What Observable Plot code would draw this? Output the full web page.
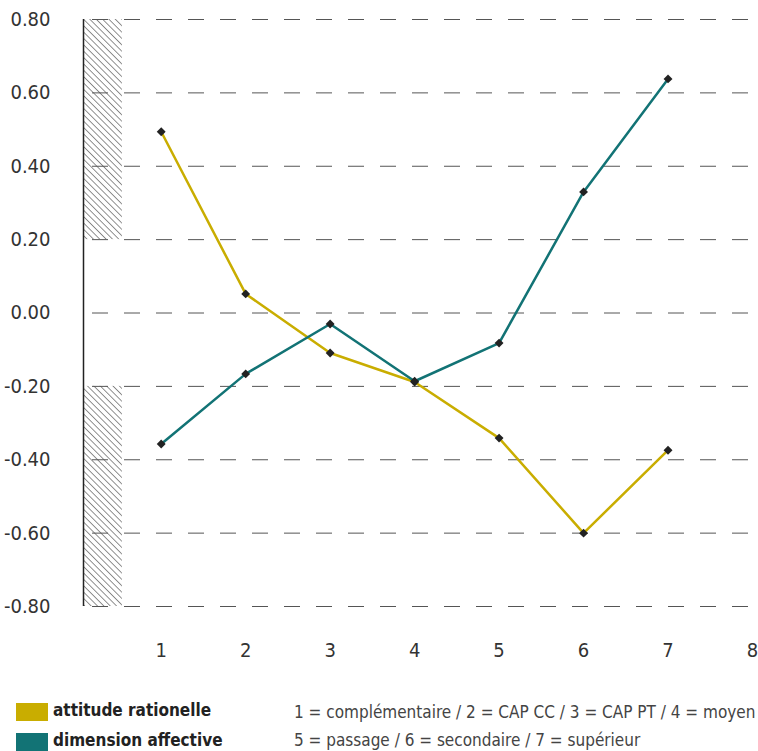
<!DOCTYPE html>
<html>
<head>
<meta charset="utf-8">
<script src="https://cdn.jsdelivr.net/npm/d3@7"></script>
<script src="https://cdn.jsdelivr.net/npm/@observablehq/plot@0.6"></script>
<style>
  body { margin: 0; background: #fff; font-family: "DejaVu Sans Condensed", "DejaVu Sans", sans-serif; font-stretch: condensed; }
  #wrap { position: relative; width: 758px; height: 751px; }
  svg text { font-stretch: condensed; }
  .leg { position: absolute; font-size: 17px; color: #222; white-space: nowrap; font-stretch: condensed; }
  .sw { position: absolute; width: 32px; height: 18px; }
</style>
</head>
<body>
<div id="wrap"></div>
<script>
const levels = [1, 2, 3, 4, 5, 6, 7];
const rationelle = [0.494, 0.052, -0.109, -0.188, -0.341, -0.600, -0.374];
const affective = [-0.357, -0.166, -0.030, -0.186, -0.082, 0.330, 0.638];
const seriesNames = ["attitude rationelle", "dimension affective"];
const seriesColors = ["#c9ad00", "#127375"];
const yTicks = [0.8, 0.6, 0.4, 0.2, 0, -0.2, -0.4, -0.6, -0.8];
const xTicks = [1, 2, 3, 4, 5, 6, 7, 8];
const hatchBands = [{x1: 0.08, x2: 0.54, y1: 0.2, y2: 0.8}, {x1: 0.08, x2: 0.54, y1: -0.8, y2: -0.2}];
const notes = ["1 = complémentaire / 2 = CAP CC / 3 = CAP PT / 4 = moyen", "5 = passage / 6 = secondaire / 7 = supérieur"];

const data = [];
levels.forEach((l, i) => {
  data.push({x: l, y: rationelle[i], s: seriesNames[0]});
  data.push({x: l, y: affective[i], s: seriesNames[1]});
});

const plot = Plot.plot({
  width: 758,
  height: 672,
  marginLeft: 83,
  marginRight: 6,
  marginTop: 19,
  marginBottom: 66,
  style: {fontFamily: '"DejaVu Sans Condensed", "DejaVu Sans", sans-serif', fontSize: "18px", color: "#333"},
  x: {domain: [0.08, 8], axis: null},
  y: {domain: [-0.8, 0.8], axis: null},
  color: {domain: seriesNames, range: seriesColors},
  marks: [
    Plot.rect(hatchBands, {x1: "x1", x2: "x2", y1: "y1", y2: "y2", fill: "url(#hatch)"}),
    Plot.ruleY(yTicks, {stroke: "#555", strokeWidth: 1, strokeDasharray: "16,16", strokeDashoffset: 23}),
    Plot.ruleX([0.08], {y1: -0.8, y2: 0.8, stroke: "#222", strokeWidth: 1.5}),
    Plot.axisY(yTicks, {tickSize: 0, tickPadding: 33, tickFormat: d => d.toFixed(2), fontSize: 20, fill: "#333"}),
    Plot.axisX(xTicks, {tickSize: 0, tickPadding: 36, tickFormat: d => String(d), fontSize: 20, fill: "#333"}),
    Plot.line(data, {x: "x", y: "y", z: "s", stroke: "s", strokeWidth: 2.5}),
    Plot.dot(data, {x: "x", y: "y", symbol: "diamond2", r: 4, fill: "#222"})
  ]
});

// hatch pattern
const ns = "http://www.w3.org/2000/svg";
const defs = document.createElementNS(ns, "defs");
defs.innerHTML = '<pattern id="hatch" patternUnits="userSpaceOnUse" width="4.5" height="4.5" patternTransform="rotate(-45)"><line x1="0" y1="0" x2="0" y2="4.5" stroke="#222" stroke-width="1"/></pattern>';
plot.insertBefore(defs, plot.firstChild);

const wrap = document.getElementById("wrap");
wrap.appendChild(plot);

// legend
seriesNames.forEach((n, i) => {
  const sw = document.createElement("div");
  sw.className = "sw";
  sw.style.left = "16px";
  sw.style.top = (703 + i * 30) + "px";
  sw.style.background = seriesColors[i];
  wrap.appendChild(sw);
  const t = document.createElement("div");
  t.className = "leg";
  t.style.left = "53px";
  t.style.top = (700 + i * 30) + "px";
  t.style.fontWeight = "bold";
  t.textContent = n;
  wrap.appendChild(t);
});
notes.forEach((n, i) => {
  const t = document.createElement("div");
  t.className = "leg";
  t.style.left = "294px";
  t.style.top = (702 + i * 28) + "px";
  t.style.color = "#444";
  t.textContent = n;
  wrap.appendChild(t);
});
</script>
</body>
</html>
